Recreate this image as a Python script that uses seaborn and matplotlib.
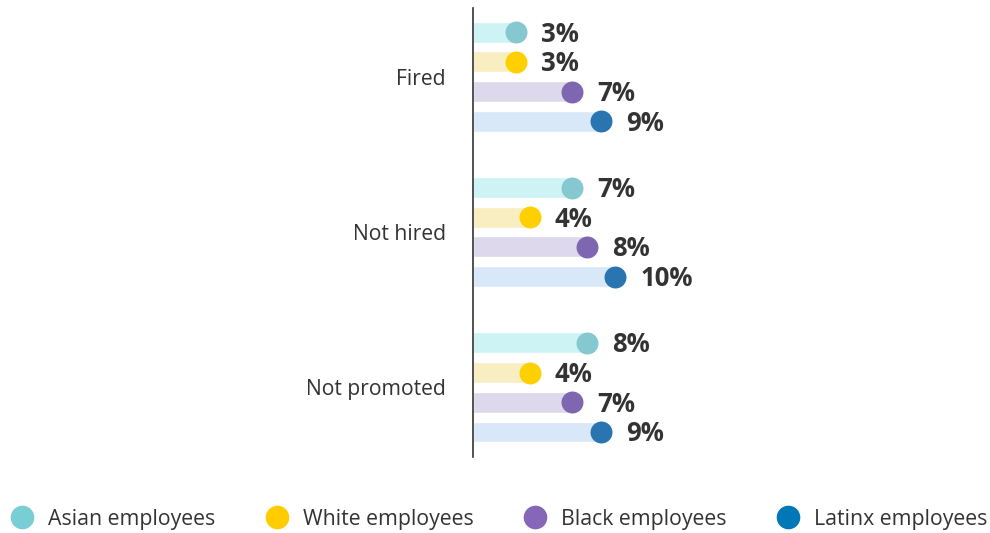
import matplotlib
matplotlib.use("Agg")
import matplotlib.pyplot as plt
from matplotlib.lines import Line2D
import pandas as pd
import seaborn as sns

# Share of employees reporting each outcome, by group
outcomes = ["Fired", "Not hired", "Not promoted"]
groups = ["Asian employees", "White employees", "Black employees", "Latinx employees"]
asian = [3, 7, 8]
white = [3, 4, 4]
black = [7, 8, 7]
latinx = [9, 10, 9]

bar_colors = ["#cdf3f4", "#f8eec2", "#ddd8ec", "#d8e8f8"]
dot_colors = ["#86c8d0", "#ffd000", "#7f66b0", "#2a75b0"]
legend_colors = ["#79cdd5", "#ffcc00", "#8666b8", "#0077b6"]
text_color = "#333333"

rows = []
for g, vals in zip(groups, [asian, white, black, latinx]):
    for o, v in zip(outcomes, vals):
        rows.append({"outcome": o, "group": g, "value": v})
df = pd.DataFrame(rows)

sns.set_theme(style="white")
plt.rcParams["font.family"] = ["Open Sans", "DejaVu Sans"]

fig = plt.figure(figsize=(9.9, 5.33), dpi=100)
ax = fig.add_axes([473 / 990, 1 - 457 / 533, 1 - 473 / 990, (457 - 8) / 533])

sns.barplot(
    data=df, y="outcome", x="value", hue="group",
    order=outcomes, hue_order=groups, palette=bar_colors,
    orient="h", width=0.764, gap=0.3, saturation=1,
    legend=False, ax=ax,
)

# Dot at the end of each bar plus its value label
for i, cont in enumerate(ax.containers):
    for bar in cont:
        x = bar.get_width()
        y = bar.get_y() + bar.get_height() / 2
        ax.scatter([x], [y], s=250, color=dot_colors[i], zorder=3, linewidths=0)
        ax.annotate(f"{x:g}%", (x, y), xytext=(18, -1.5), textcoords="offset points",
                    va="center", ha="left", fontsize=18.5, fontweight="bold",
                    color=text_color)

ax.set_xlim(0, 36.4)
ax.set_ylim(2.448, -0.442)
ax.set_xlabel("")
ax.set_ylabel("")
ax.set_xticks([])
ax.tick_params(axis="y", length=0, pad=19.5, labelsize=15.2, labelcolor=text_color)
for side in ["top", "right", "bottom"]:
    ax.spines[side].set_visible(False)
ax.spines["left"].set_color("#333333")
ax.spines["left"].set_linewidth(1.2)

handles = [Line2D([0], [0], marker="o", linestyle="", markersize=17,
                  markerfacecolor=c, markeredgewidth=0) for c in legend_colors]
fig.legend(handles, groups, loc="center left", bbox_to_anchor=(9.25 / 990, 1 - 519 / 533),
           ncol=4, frameon=False, fontsize=15.3, labelcolor=text_color,
           handlelength=1.2, handletextpad=0.62, columnspacing=2.3,
           borderaxespad=0, borderpad=0)

fig.savefig("out.png", dpi=100)
